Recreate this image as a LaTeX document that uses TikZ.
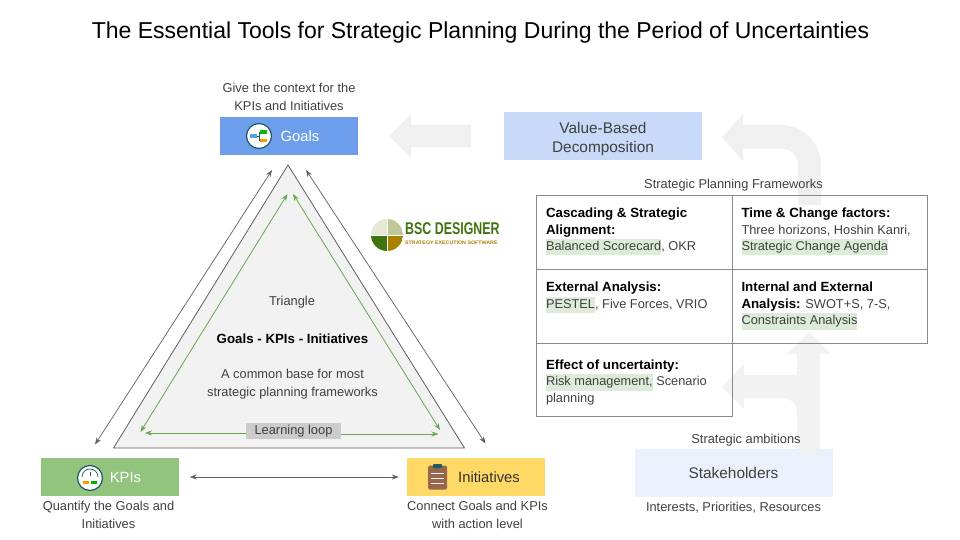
\documentclass[tikz,border=0pt]{standalone}
\usepackage{xcolor}
\usepackage{graphicx}
\usepackage{fontspec}
\setmainfont{Liberation Sans}
\usetikzlibrary{arrows.meta, positioning, calc, fit}

\definecolor{goalblue}{HTML}{6D9EEB}
\definecolor{kpigreen}{HTML}{93C47D}
\definecolor{inityellow}{HTML}{FFD966}
\definecolor{valueblue}{HTML}{C9DAF8}
\definecolor{stakeblue}{HTML}{EBF1FC}
\definecolor{bigarrowgray}{HTML}{F0F0F0}
\definecolor{textgray}{HTML}{404040}
\definecolor{linegray}{HTML}{5F5F5F}
\definecolor{cellgray}{HTML}{8A8A8A}
\definecolor{loopgreen}{HTML}{6AA84F}
\definecolor{hlgreen}{HTML}{DDECD8}
\definecolor{iconteal}{HTML}{1F5A66}
\definecolor{logogreen}{HTML}{3F7510}
\definecolor{logogold}{HTML}{AA8000}
\definecolor{logopale}{HTML}{E4E8D4}
\definecolor{logosage}{HTML}{C2C79A}
\definecolor{clipbrown}{HTML}{96674A}

\newcommand{\hlbox}[1]{{\setlength{\fboxsep}{0pt}\colorbox{hlgreen}{\strut #1}}}
\newcommand{\cellhead}[1]{{\fontsize{13.3}{16.4}\selectfont\bfseries\color{black}#1}}
\newcommand{\celltext}[3][5pt]{\parbox[c][#2][t]{177pt}{\raggedright\vspace*{#1}#3}}

\tikzset{
  smalltext/.style={font=\fontsize{12.85}{18}\selectfont, text=textgray, align=center, inner sep=0pt},
  mainbox/.style={minimum width=138pt, minimum height=38pt, inner sep=0pt, font=\fontsize{14.8}{19}\selectfont},
  widebox/.style={minimum width=198pt, minimum height=48pt, inner sep=0pt, align=center, text=textgray, font=\fontsize{15.4}{19}\selectfont},
  framecell/.style={draw=cellgray, line width=0.8pt, inner xsep=9.5pt, inner ysep=8pt, anchor=north west, outer sep=0pt,
    text=textgray, font=\fontsize{12.8}{16.4}\selectfont},
  darkarrow/.style={draw=linegray, line width=0.7pt, {Stealth[length=7pt,width=5pt]}-{Stealth[length=7pt,width=5pt]}},
  looparrow/.style={draw=loopgreen, line width=0.8pt, {Stealth[length=7pt,width=5pt]}-{Stealth[length=7pt,width=5pt]}},
  loopside/.style={draw=loopgreen, line width=0.8pt, -{Stealth[length=7pt,width=5pt]}},
}

\begin{document}
\begin{tikzpicture}[x=1pt, y=-1pt]
\useasboundingbox (0,0) rectangle (960,540);
\fill[white] (0,0) rectangle (960,540);

\node[font=\fontsize{23}{28}\selectfont, inner sep=0pt] (title) at (480.5,32.5) {The Essential Tools for Strategic Planning During the Period of Uncertainties};

% big grey arrows
\node[widebox, fill=stakeblue] (stake) at (733.5,473) {Stakeholders};
\node[widebox, fill=valueblue] (value) at (603,136) {\rule{0pt}{18pt}Value-Based\\Decomposition};
\fill[bigarrowgray] (389,136) -- (411,114) -- (411,125) -- (471,125) -- (471,147) -- (411,147) -- (411,158) -- cycle;
\fill[bigarrowgray] (722,137) -- (743,114) -- (743,125) -- (781,125)
  .. controls (803,125) and (821,143) .. (821,165) -- (821,205) -- (798,205) -- (798,164)
  .. controls (798,156) and (791,149) .. (783,149) -- (743,149) -- (743,161) -- cycle;
\fill[bigarrowgray, fill opacity=0.85] (809,332) -- (831,354) -- (820,354) -- (820,455) -- (797,455) -- (797,412)
  .. controls (797,404) and (791,398) .. (783,398) -- (744,398) -- (744,409) -- (722,387) -- (744,364) -- (744,375) -- (797,375) -- (797,354) -- (787,354) -- cycle;

% triangle
\coordinate (apex) at (288,165);
\coordinate (baseL) at (113.5,448);
\coordinate (baseR) at (464.5,448);
\draw[fill=black!5, draw=linegray, line width=0.8pt] (apex) -- (baseL) -- (baseR) -- cycle;

\node[mainbox, fill=goalblue, text=white] (goals) at (289,136) {\hspace*{22pt}Goals};
\node[mainbox, fill=kpigreen, text=white] (kpis) at (110,477) {\hspace*{31pt}\raisebox{-0.7pt}{KPIs}};
\node[mainbox, fill=inityellow, text=black!80] (inits) at (476,477) {\hspace*{26pt}\raisebox{-0.7pt}{Initiatives}};

\node[smalltext, above=5.5pt of goals] (goalsnote) {Give the context for the\\KPIs and Initiatives};
\node[smalltext, below=5pt of kpis, xshift=-1.5pt] (kpisnote) {Quantify the Goals and\\Initiatives};
\node[smalltext, below=5pt of inits, xshift=1.5pt] (initsnote) {Connect Goals and KPIs\\with action level};

% arrows round the triangle
\coordinate (outerLtop) at (272,170);
\coordinate (outerLbot) at (95,444.5);
\coordinate (outerRtop) at (306,170);
\coordinate (outerRbot) at (485.5,443.5);
\draw[darkarrow] (outerLtop) -- (outerLbot);
\draw[darkarrow] (outerRtop) -- (outerRbot);
\draw[darkarrow, shorten <=10.5pt, shorten >=8pt] (kpis.east) -- (inits.west);

\coordinate (greenLtop) at (287.5,194);
\coordinate (greenLbot) at (140.5,432);
\coordinate (greenRtop) at (293,194);
\coordinate (greenRbot) at (440,430);
\coordinate (loopL) at (145,433);
\coordinate (loopR) at (438.5,434);
\draw[looparrow] (greenLtop) -- (greenLbot);
\draw[looparrow] (greenRtop) -- (greenRbot);
\node[smalltext, fill=black!20, minimum width=95pt, minimum height=16pt] (loop) at (293.5,431) {\raisebox{-0.8pt}{Learning loop}};
\draw[loopside] (loop.west |- loopL) -- (loopL);
\draw[loopside] (loop.east |- loopR) -- (loopR);

\node[smalltext] (tritop) at (292,302) {Triangle};
\node[smalltext, text=black, font=\fontsize{13.3}{18}\selectfont\bfseries] (trimid) at (292.5,339) {Goals - KPIs - Initiatives};
\node[smalltext] (tribot) at (292.5,384) {A common base for most\\strategic planning frameworks};

% goals icon
\draw[iconteal, fill=white, line width=1.2pt] (259,136) circle (12.5);
\fill[cyan!70!blue!70] (250,134) rectangle (257,138);
\draw[iconteal, line width=0.7pt] (257,136) -- (259,136) (259,132) -- (259,141);
\fill[green!75!black] (260,130.5) rectangle (267,134);
\fill[orange!80!yellow] (260,139) rectangle (267,142.5);
% kpi icon
\draw[iconteal, fill=white, line width=1.2pt] (90,478) circle (12.5);
\draw[iconteal, line width=0.7pt] (82,477) .. controls (82,472) and (86,469) .. (90,469) .. controls (94,469) and (98,472) .. (98,477);
\draw[iconteal, line width=0.7pt] (90,472) -- (90,476);
\fill[orange!80!yellow] (83,481) rectangle (89,484);
\fill[green!70!black] (91,481) rectangle (97,484);
% initiatives icon
\fill[clipbrown, rounded corners=1.5pt] (428,465.5) rectangle (447,489.5);
\fill[iconteal, rounded corners=0.8pt] (433,464) rectangle (442,468);
\foreach \liney in {473,478,483} {
  \draw[white!90!clipbrown, line width=1pt] (431,\liney) -- (444,\liney);
}

% logo
\begin{scope}
\clip (387,235) circle (16);
\fill[logopale] (371,219) rectangle (387,235);
\fill[logosage] (387,219) rectangle (403,235);
\fill[logogreen] (371,235) rectangle (387,251);
\fill[logogold] (387,235) rectangle (403,251);
\draw[white, line width=0.8pt] (371,235) -- (403,235) (387,219) -- (387,251);
\end{scope}
\node[inner sep=0pt, anchor=west, text=logogreen] (logoname) at (405,229) {\fontsize{17}{18}\selectfont\bfseries\scalebox{0.73}[1]{BSC DESIGNER}};
\node[inner sep=0pt, anchor=west, text=logogold] (logosub) at (405,243) {\fontsize{5}{6}\selectfont\bfseries\scalebox{1.06}[1]{STRATEGY EXECUTION SOFTWARE}};

% frameworks table
\node[smalltext] (tabletitle) at (733.5,185) {Strategic Planning Frameworks};
\node[framecell] (cascade) at (536.5,195) {\celltext{58.3pt}{\cellhead{Cascading \& Strategic}\\\cellhead{Alignment:}\\\hlbox{Balanced Scorecard}, OKR}};
\node[framecell, right=0pt of cascade, inner xsep=9pt] (timechange) {\celltext{58.3pt}{\cellhead{Time \& Change factors:}\\Three horizons, Hoshin Kanri,\\\hlbox{Strategic Change Agenda}}};
\node[framecell, below=0pt of cascade] (external) {\celltext{58pt}{\cellhead{External Analysis:}\\\hlbox{PESTEL}, Five Forces, VRIO}};
\node[framecell, right=0pt of external, inner xsep=9pt] (internal) {\celltext{58pt}{\cellhead{Internal and External}\\\cellhead{Analysis:} SWOT+S, 7-S,\\\hlbox{Constraints Analysis}}};
\node[framecell, below=0pt of external] (effect) {\celltext[8.5pt]{57.4pt}{\cellhead{Effect of uncertainty:}\\\hlbox{Risk management,} Scenario\\planning}};

\node[smalltext, above=2pt of stake, xshift=12.5pt] (stakeabove) {Strategic ambitions};
\node[smalltext, below=5pt of stake] (stakebelow) {Interests, Priorities, Resources};
\end{tikzpicture}
\end{document}
